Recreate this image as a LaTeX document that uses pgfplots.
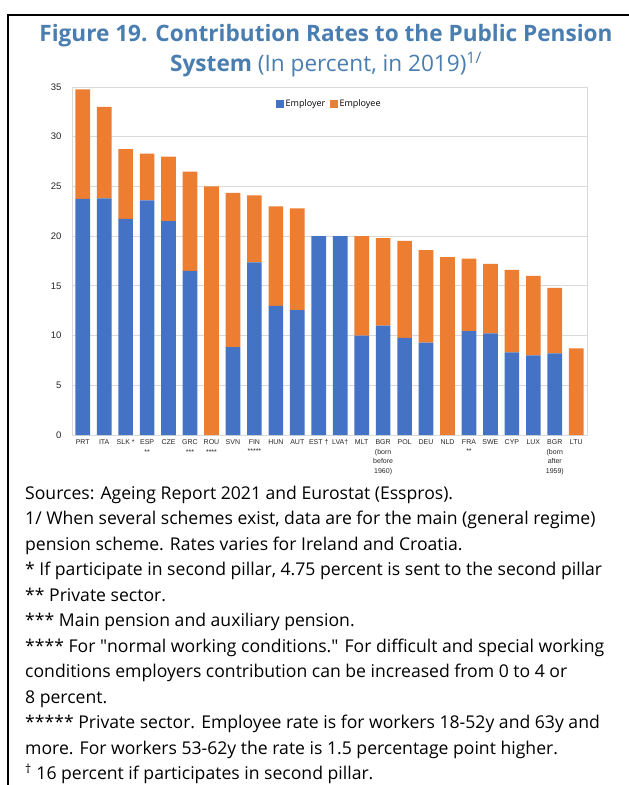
\documentclass[border=0pt]{standalone}
\usepackage{pgfplots}
\pgfplotsset{compat=1.18}
\usepackage{fontspec}
\setmainfont{Open Sans}
\newfontfamily\arialfont{Liberation Sans}
\definecolor{empr}{HTML}{4472C4}
\definecolor{empe}{HTML}{ED7D31}
\definecolor{titleblue}{RGB}{74,126,176}
\definecolor{gridgray}{RGB}{217,217,217}
\begin{document}
\begin{tikzpicture}[x=1pt,y=1pt]
\useasboundingbox (0,0) rectangle (629,-785);
\fill[white] (0,0) rectangle (629,-785);
\draw[black, line width=2pt] (8,-800) -- (8,-15) -- (650,-15);
\node[anchor=base, text=titleblue, font=\fontsize{22.6}{26}\selectfont\bfseries] at (326,-41) {Figure 19. Contribution Rates to the Public Pension};
\node[anchor=base, text=titleblue, font=\fontsize{22.6}{26}\selectfont] at (326,-71) {\textbf{System} (In percent, in 2019)\textsuperscript{1/}};
\begin{axis}[
  at={(72pt,-435pt)}, anchor=south west,
  scale only axis, width=515pt, height=348pt,
  ybar stacked, bar width=14.7pt,
  xmin=-0.5, xmax=23.5, ymin=0, ymax=35,
  ytick={0,5,...,35},
  xtick={0,...,23},
  xticklabels={PRT,ITA,SLK *,ESP\\**,CZE,GRC\\***,ROU\\****,SVN,FIN\\*****,HUN,AUT,EST \dag,LVA\dag,MLT,BGR\\(born\\before\\1960),POL,DEU,NLD,FRA\\**,SWE,CYP,LUX,BGR\\(born\\after\\1959),LTU},
  xticklabel style={align=center, font=\arialfont\fontsize{7}{9.6}\selectfont, text=black!85, yshift=-1pt},
  yticklabel style={font=\arialfont\fontsize{9.5}{11}\selectfont, text=black!85, xshift=-7pt},
  /pgf/number format/assume math mode=true,
  major tick length=0pt,
  ymajorgrids, grid style={gridgray, line width=0.8pt},
  axis line style={gridgray, line width=0.8pt},
  legend style={at={(0.5,0.951)}, anchor=center, draw=none, fill=none, legend columns=2,
    font=\fontsize{9}{10}\selectfont, /tikz/every even column/.append style={column sep=3pt}},
  legend image code/.code={\fill[#1] (0pt,-3.6pt) rectangle (7.2pt,3.6pt);},
]
\addplot[fill=empr, draw=none] coordinates {
(0,23.75) (1,23.81) (2,21.75) (3,23.6) (4,21.5) (5,16.5) (6,0) (7,8.85) (8,17.35) (9,13.0) (10,12.55) (11,20.0)
(12,20.0) (13,10.0) (14,11.0) (15,9.76) (16,9.3) (17,0) (18,10.45) (19,10.21) (20,8.3) (21,8.0) (22,8.22) (23,0)};
\addplot[fill=empe, draw=none] coordinates {
(0,11.0) (1,9.19) (2,7.0) (3,4.7) (4,6.5) (5,10.0) (6,25.0) (7,15.5) (8,6.75) (9,10.0) (10,10.25) (11,0)
(12,0) (13,10.0) (14,8.8) (15,9.76) (16,9.3) (17,17.9) (18,7.3) (19,7.0) (20,8.3) (21,8.0) (22,6.58) (23,8.72)};
\legend{Employer,Employee}
\end{axis}
\begin{scope}[font=\fontsize{17.6}{20}\selectfont]
\node[anchor=base west, inner sep=0] at (25,-499) {Sources: Ageing Report 2021 and Eurostat (Esspros).};
\node[anchor=base west, inner sep=0] at (25,-524.5) {1/ When several schemes exist, data are for the main (general regime)};
\node[anchor=base west, inner sep=0] at (25,-550) {pension scheme. Rates varies for Ireland and Croatia.};
\node[anchor=base west, inner sep=0] at (25,-575.5) {* If participate in second pillar, 4.75 percent is sent to the second pillar};
\node[anchor=base west, inner sep=0] at (25,-601) {** Private sector.};
\node[anchor=base west, inner sep=0] at (25,-626.5) {*** Main pension and auxiliary pension.};
\node[anchor=base west, inner sep=0] at (25,-652) {**** For \textquotedbl normal working conditions.\textquotedbl{} For difficult and special working};
\node[anchor=base west, inner sep=0] at (25,-677.5) {conditions employers contribution can be increased from 0 to 4 or};
\node[anchor=base west, inner sep=0] at (25,-703) {8 percent.};
\node[anchor=base west, inner sep=0] at (25,-728.5) {***** Private sector. Employee rate is for workers 18-52y and 63y and};
\node[anchor=base west, inner sep=0] at (25,-754) {more. For workers 53-62y the rate is 1.5 percentage point higher.};
\node[anchor=base west, inner sep=0] at (25,-779.5) {\textsuperscript{\dag} 16 percent if participates in second pillar.};
\end{scope}
\end{tikzpicture}
\end{document}
